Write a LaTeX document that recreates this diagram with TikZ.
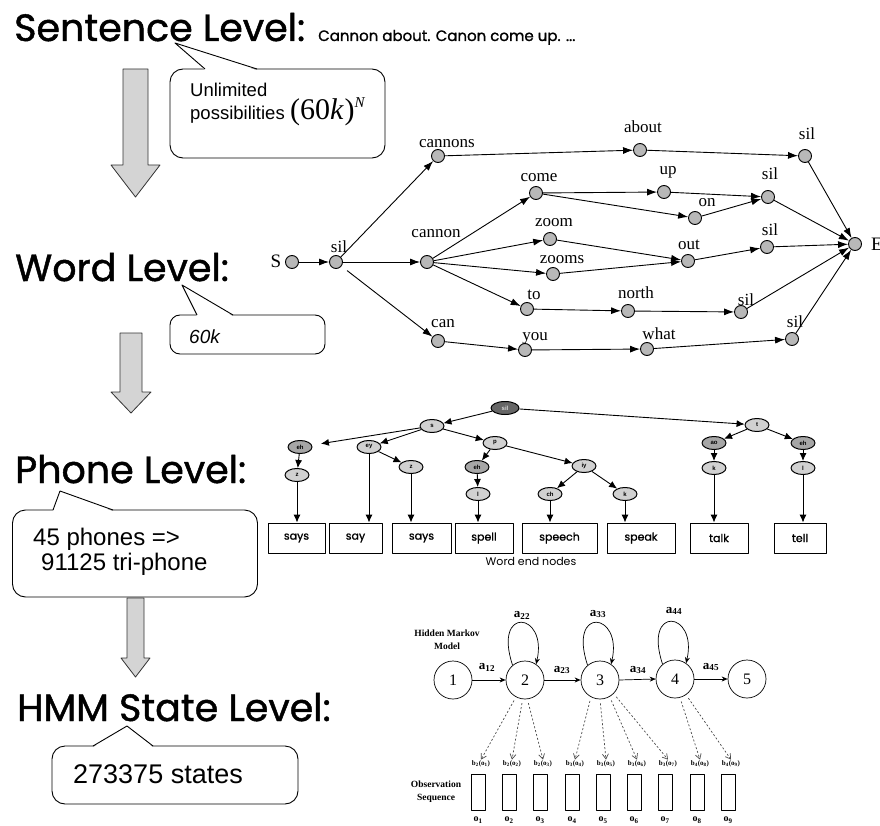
\documentclass[tikz,border=0pt]{standalone}
\usepackage{fontspec}
\setmainfont{Liberation Serif}
\newfontfamily\comicfont{Poppins}[FakeBold=1.2]
\newfontfamily\comicthin{Poppins}
\newfontfamily\arialfont{Liberation Sans}
\usetikzlibrary{arrows.meta,calc,shapes.geometric}

% block arrow pointing down: centre x, top y, half shaft, half head, head start y, tip y
\newcommand\levelarrow[6]{%
  \filldraw[levelarrowstyle] (#1-#3,#2) -- (#1+#3,#2) -- (#1+#3,#5) -- (#1+#4,#5)
    -- (#1,#6) -- (#1-#4,#5) -- (#1-#3,#5) -- cycle;}
% speech-bubble wedge: left base x, right base x, base y, tip x, tip y
\newcommand\bubblewedge[5]{%
  \fill[white] (#1,#3+1.3) -- (#4,#5) -- (#2,#3+1.3) -- cycle;
  \draw[calloutline] (#1,#3) -- (#4,#5) -- (#2,#3);}

\begin{document}
\begin{tikzpicture}[x=1pt,y=-1pt,line join=round,
  levelarrowstyle/.style={fill=black!17, draw=black!80, line width=0.8pt},
  calloutbox/.style={draw, fill=white, line width=0.9pt, rounded corners=13pt, inner sep=0pt},
  calloutline/.style={line width=0.9pt},
  title/.style={anchor=base west, inner sep=0pt, font=\comicfont\fontsize{38}{38}\selectfont},
  ctext/.style={anchor=base west, inner sep=0pt, font=\arialfont\fontsize{24}{24}\selectfont},
  wn/.style={circle, draw, fill=black!28, minimum size=13pt, inner sep=0pt, line width=0.9pt},
  wl/.style={anchor=base, inner sep=0pt, font=\fontsize{17}{17}\selectfont},
  wa/.style={-{Latex[length=10pt,width=7pt]}, line width=0.9pt},
  pn/.style={ellipse, draw, fill=black!18, minimum width=24pt, minimum height=13pt, inner sep=0pt,
    line width=1pt, font=\arialfont\bfseries\fontsize{6}{6}\selectfont},
  pa/.style={-{Latex[length=8pt,width=7pt]}, line width=0.9pt},
  wend/.style={draw, line width=0.9pt, minimum height=30pt, inner sep=0pt,
    font=\comicfont\fontsize{11}{11}\selectfont},
  st/.style={circle, draw, minimum size=38pt, inner sep=0pt, line width=0.7pt, font=\fontsize{16}{16}\selectfont},
  tr/.style={-{Stealth[length=6pt,width=5pt]}, line width=0.7pt},
  al/.style={inner sep=0pt, font=\bfseries\fontsize{13}{13}\selectfont},
  emit/.style={dash pattern=on 2pt off 2pt, draw=black!70, line width=0.7pt,
    -{Straight Barb[length=5pt,width=6pt]}},
  bl/.style={inner sep=1pt, font=\bfseries\fontsize{7}{7}\selectfont},
  ob/.style={draw, line width=0.8pt, minimum width=14pt, minimum height=36pt, inner sep=0pt},
  ol/.style={inner sep=0pt, font=\bfseries\fontsize{10}{10}\selectfont},
  smallbold/.style={inner sep=0pt, font=\bfseries\fontsize{9.5}{13}\selectfont, align=center}
]
\useasboundingbox (0,0) rectangle (880,826);
\fill[white] (0,0) rectangle (880,826);

% ---------------- level titles ----------------
\node[title] (tsent) at (14,41) {Sentence Level:};
\node[anchor=base west, inner sep=0pt, font=\comicfont\fontsize{15}{15}\selectfont] (tsentex) at (318,41)
  {Cannon about. Canon come up. ...};
\node[title] (tword) at (15,281) {Word Level:};
\node[title] (tphone) at (15,483) {Phone Level:};
\node[title] (thmm) at (17,721) {HMM State Level:};

% ---------------- block arrows between levels ----------------
\levelarrow{135.5}{69}{12.5}{24.5}{165}{197}
\levelarrow{131}{333}{11}{20}{392}{413}
\levelarrow{135.5}{598}{8.5}{14.5}{658}{677}

% ---------------- callouts ----------------
\node[calloutbox, minimum width=215pt, minimum height=89pt] (c1) at (277.5,113.5) {};
\bubblewedge{205}{257}{69}{175}{43}
\node[anchor=base west, inner sep=0pt, font=\arialfont\fontsize{18.5}{18.5}\selectfont] (c1a) at (190,97) {Unlimited};
\node[anchor=base west, inner sep=0pt, font=\arialfont\fontsize{18.5}{18.5}\selectfont] (c1b) at (190,120) {possibilities};
\node[anchor=west, inner sep=0pt, font=\fontsize{30}{30}\selectfont] (c1c) at (290,112)
  {(60\textit{k\kern1pt})\raisebox{12pt}{\fontsize{15}{15}\selectfont\textit{N}}};

\node[calloutbox, minimum width=155pt, minimum height=39pt, rounded corners=10pt] (c2) at (247.5,334.5) {};
\bubblewedge{197}{233}{315}{182}{285}
\node[anchor=base west, inner sep=0pt, font=\arialfont\itshape\fontsize{19}{19}\selectfont] (c2a) at (189,343) {60k};

\node[calloutbox, minimum width=245pt, minimum height=87pt] (c3) at (135,553.5) {};
\bubblewedge{53}{113}{510}{60}{491}
\node[ctext] (c3a) at (33,545) {45 phones =>};
\node[ctext] (c3b) at (41,570) {91125 tri-phone};

\node[calloutbox, minimum width=246pt, minimum height=58pt] (c4) at (175,775) {};
\bubblewedge{93}{153}{746}{127}{726}
\node[ctext, font=\arialfont\fontsize{27}{27}\selectfont] (c4a) at (73,783) {273375 states};

% ---------------- word graph ----------------
\node[wn] (S) at (292,262) {};
\node[wl, font=\fontsize{19}{19}\selectfont] (S-t) at (276,268) {S};
\node[wn] (sil0) at (336,262) {};      \node[wl] (sil0-t) at (339,252) {sil};
\node[wn] (cannons) at (438,156) {};   \node[wl] (cannons-t) at (447,148) {cannons};
\node[wn] (cannon) at (427,262) {};    \node[wl] (cannon-t) at (436,238) {cannon};
\node[wn] (can) at (438,341) {};       \node[wl] (can-t) at (443,327) {can};
\node[wn] (come) at (536,193) {};      \node[wl] (come-t) at (539,182) {come};
\node[wn] (zoom) at (550,239) {};      \node[wl] (zoom-t) at (554,227) {zoom};
\node[wn] (zooms) at (553,274) {};     \node[wl] (zooms-t) at (562,264) {zooms};
\node[wn] (to) at (527,309) {};        \node[wl] (to-t) at (534,299) {to};
\node[wn] (you) at (525,350) {};       \node[wl] (you-t) at (535,340) {you};
\node[wn] (about) at (640,150) {};     \node[wl] (about-t) at (643,133) {about};
\node[wn] (silA) at (805,156) {};      \node[wl] (silA-t) at (807,140) {sil};
\node[wn] (up) at (664,192) {};        \node[wl] (up-t) at (668,175) {up};
\node[wn] (on) at (695,218) {};        \node[wl] (on-t) at (707,207) {on};
\node[wn] (silB) at (768,197) {};      \node[wl] (silB-t) at (770,180) {sil};
\node[wn] (out) at (688,261) {};       \node[wl] (out-t) at (689,250) {out};
\node[wn] (silC) at (767,247) {};      \node[wl] (silC-t) at (770,236) {sil};
\node[wn] (north) at (628,311) {};     \node[wl] (north-t) at (636,298) {north};
\node[wn] (silD) at (741,312) {};      \node[wl] (silD-t) at (746,305) {sil};
\node[wn] (what) at (647,349) {};      \node[wl] (what-t) at (659,339) {what};
\node[wn] (silE) at (792,339) {};      \node[wl] (silE-t) at (795,327) {sil};
\node[wn] (E) at (855,244) {};
\node[wl, anchor=base west, font=\fontsize{19}{19}\selectfont] (E-t) at (871,251) {E};

\foreach \a/\b in {S/sil0, sil0/cannons, sil0/cannon, cannons/about, about/silA, silA/E,
  cannon/come, cannon/zoom, cannon/zooms, cannon/to, come/up, come/on, up/silB, on/silB, silB/E,
  zoom/out, zooms/out, out/silC, silC/E, to/north, north/silD, silD/E,
  can/you, you/what, what/silE, silE/E}
  \draw[wa] (\a) -- (\b);
\draw[wa, shorten <=7pt] (sil0) -- (can);

% ---------------- phone tree ----------------
\node[pn, fill=black!60, minimum width=28pt, text=black!15] (root) at (505,408) {sil};
\node[pn] (s) at (432,426) {s};
\node[pn] (t) at (757,425) {t};
\node[pn, fill=black!35] (eh1) at (300,447) {eh};
\node[pn] (z1) at (297,475) {z};
\node[pn] (ey) at (369,447) {ey};
\node[pn] (z2) at (411,467) {z};
\node[pn] (p) at (495,443) {p};
\node[pn, fill=black!35] (eh2) at (477,467) {eh};
\node[pn] (l1) at (478,494) {l};
\node[pn] (iy) at (584,466) {iy};
\node[pn] (ch) at (550,494) {ch};
\node[pn] (k1) at (625,494) {k};
\node[pn, fill=black!35] (ao) at (714,443) {ao};
\node[pn] (k2) at (714,468) {k};
\node[pn, fill=black!35] (eh3) at (803,443) {eh};
\node[pn] (l2) at (803,468) {l};

\node[wend, minimum width=57pt] (says1) at (296.5,538) {says};
\node[wend, minimum width=53pt] (say) at (355.5,538) {say};
\node[wend, minimum width=59pt] (says2) at (421.5,538) {says};
\node[wend, minimum width=58pt] (spell) at (484,538) {spell};
\node[wend, minimum width=75pt] (speech) at (559.5,538) {speech};
\node[wend, minimum width=68pt] (speak) at (641,538) {speak};
\node[wend, minimum width=58pt] (talk) at (719,538) {talk};
\node[wend, minimum width=52pt] (tell) at (800,538) {tell};
\node[anchor=base, inner sep=0pt, font=\comicthin\fontsize{11}{11}\selectfont] (wendlab) at (531,565) {Word end nodes};

\foreach \a/\b in {root/s, root/t, eh1/z1, s/ey, ey/z2, s/p, p/eh2, eh2/l1,
  p/iy, iy/ch, iy/k1, t/ao, t/eh3, ao/k2, eh3/l2}
  \draw[pa] (\a) -- (\b);
\draw[pa, shorten >=9pt] (s) -- (eh1);
\foreach \a/\b in {z1/says1, ey/say, z2/says2, l1/spell, ch/speech, k1/speak, k2/talk, l2/tell}
  \draw[pa] (\a.south) -- (\a.south |- \b.north);

% ---------------- HMM ----------------
\node[smallbold] (hmmtitle) at (447,640) {Hidden Markov\\Model};
\node[st] (s1) at (453,680) {1};
\node[st] (s2) at (525,680) {2};
\node[st] (s3) at (600,680) {3};
\node[st] (s4) at (675,679) {4};
\node[st] (s5) at (747,679) {5};
\foreach \a/\b in {s1/s2, s2/s3, s3/s4, s4/s5}
  \draw[tr] (\a.east) -- (\b.west);
\foreach \q in {s2, s3, s4}
  \draw[tr] (\q.130) .. controls +(-20,-60) and +(12,-52) .. (\q.55);
\node[al] (a12) at (487,667) {a\textsubscript{12}};
\node[al] (a22) at (522,615) {a\textsubscript{22}};
\node[al] (a23) at (562,670) {a\textsubscript{23}};
\node[al] (a33) at (598,614) {a\textsubscript{33}};
\node[al] (a34) at (638,670) {a\textsubscript{34}};
\node[al] (a44) at (674,611) {a\textsubscript{44}};
\node[al] (a45) at (711,667) {a\textsubscript{45}};

\foreach \i/\x/\q in {1/478/2, 2/509/2, 3/540/2, 4/572/3, 5/603/3, 6/634/3, 7/665/3, 8/697/4, 9/728/4} {
  \node[bl] (b\i) at (\x+3,764) {b\textsubscript{\q}(o\textsubscript{\i})};
  \node[ob] (o\i) at (\x,792) {};
  \node[ol] (ol\i) at (\x,820) {o\textsubscript{\i}};
}
\foreach \q/\ang/\i in {s2/242/1, s2/263/2, s2/277/3, s3/242/4, s3/270/5, s3/300/6, s3/315/7, s4/285/8, s4/305/9}
  \draw[emit, shorten <=4pt] (\q.\ang) -- (b\i.north);
\node[smallbold] (obslab) at (436,792) {Observation\\Sequence};

\end{tikzpicture}
\end{document}
